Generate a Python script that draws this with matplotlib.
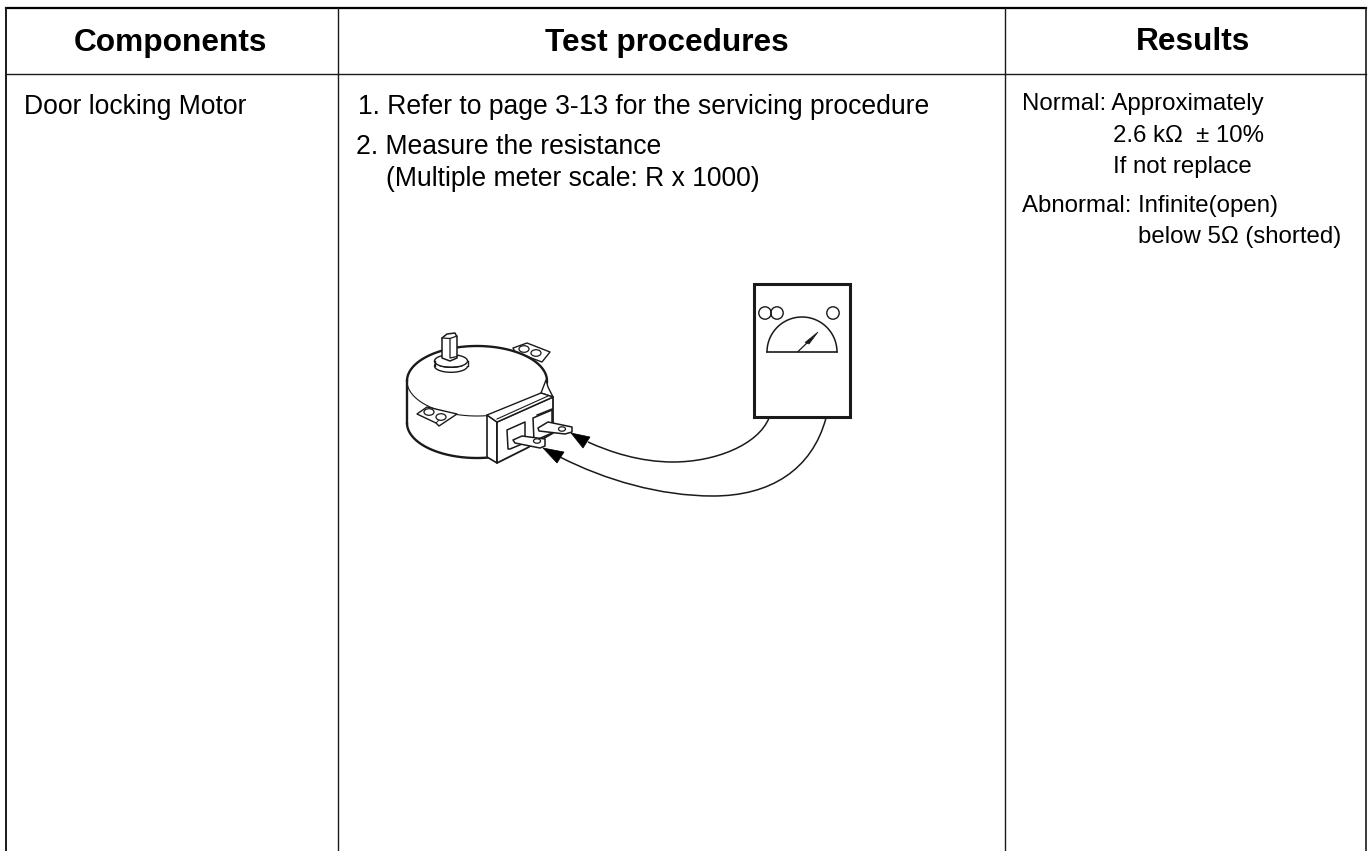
# Door locking motor test table with the meter sketch, laid out in reference pixels
import numpy as np
import matplotlib.pyplot as plt
from matplotlib.patches import Polygon, Circle, Ellipse, Rectangle, PathPatch
from matplotlib.path import Path

plt.rcParams['font.family'] = ['Liberation Sans', 'DejaVu Sans']

W, H = 1369, 851
INK = '#1a1a1a'

headers = ['Components', 'Test procedures', 'Results']
header_x = [170, 666.5, 1192.5]
component = 'Door locking Motor'
procedures = [
    (358, 114, '1. Refer to page 3-13 for the servicing procedure'),
    (356, 154, '2. Measure the resistance'),
    (386, 186, '(Multiple meter scale: R x 1000)'),
]
results = [
    (1022, 110, 'Normal: Approximately'),
    (1113, 142, '2.6 k\u03a9  \u00b1 10%'),
    (1113, 173, 'If not replace'),
    (1022, 212, 'Abnormal: Infinite(open)'),
    (1138, 243, 'below 5\u03a9 (shorted)'),
]
col_lines = [6, 338, 1005, 1365.5]
row_top, row_head, row_bottom = 8, 73.5, 851

fig = plt.figure(figsize=(W / 100, H / 100), dpi=100, facecolor='white')
ax = fig.add_axes([0, 0, 1, 1])
ax.set_xlim(0, W)
ax.set_ylim(H, 0)
ax.axis('off')

# table grid
ax.plot([col_lines[0], col_lines[-1]], [row_top, row_top], color='black', lw=1.6, solid_capstyle='projecting')
ax.plot([col_lines[0], col_lines[-1]], [row_head, row_head], color=INK, lw=1.0)
ax.plot([col_lines[0]] * 2, [row_top, row_bottom], color=INK, lw=1.4)
ax.plot([col_lines[3]] * 2, [row_top, row_bottom], color=INK, lw=1.2)
for x in col_lines[1:3]:
    ax.plot([x, x], [row_top, row_bottom], color=INK, lw=1.0)

# text
for x, label in zip(header_x, headers):
    ax.text(x, 50.5, label, ha='center', va='baseline', fontsize=22.8, fontweight='bold', color='black')
ax.text(24, 114, component, ha='left', va='baseline', fontsize=19.1, color='black')
for x, y, label in procedures:
    ax.text(x, y, label, ha='left', va='baseline', fontsize=19.1, color='black')
for x, y, label in results:
    ax.text(x, y, label, ha='left', va='baseline', fontsize=17.3, color='black')


def poly(points, fc='white', lw=1.0, z=3, closed=True):
    ax.add_patch(Polygon(points, closed=closed, fc=fc, ec=INK, lw=lw, zorder=z, joinstyle='round'))


def arc(cx, cy, rx, ry, a0, a1, lw=1.4, z=3):
    t = np.radians(np.linspace(a0, a1, 80))
    ax.plot(cx + rx * np.cos(t), cy + ry * np.sin(t), color=INK, lw=lw, zorder=z, solid_capstyle='round')


def curve(points, lw=1.1, z=2):
    codes = [Path.MOVETO] + [Path.CURVE4] * (len(points) - 1)
    ax.add_patch(PathPatch(Path(points, codes), fc='none', ec=INK, lw=lw, zorder=z))


def hole(cx, cy, rx=5, ry=3.3, z=6):
    ax.add_patch(Ellipse((cx, cy), 2 * rx, 2 * ry, fc='white', ec=INK, lw=0.9, zorder=z))


# motor: back tab first so the body hides its lower edge
poly([(513, 348), (527, 343), (550, 352), (542, 362), (515, 352)], z=2)
hole(524, 349, z=3)
hole(536, 353, z=3)

t = np.radians(np.linspace(180, 360, 80))
b = np.radians(np.linspace(0, 180, 80))
body_x = np.concatenate([477 + 70 * np.cos(t), 477 + 70 * np.cos(b)])
body_y = np.concatenate([381 + 35 * np.sin(t), 423 + 35 * np.sin(b)])
ax.add_patch(Polygon(np.column_stack([body_x, body_y]), closed=True, fc='white', ec='none', zorder=3))
arc(477, 381, 70, 35, 180, 368, lw=1.7, z=4)
arc(477, 381, 70, 35, 78, 180, lw=0.8, z=4)
arc(477, 423, 70, 35, 78, 180, lw=1.7, z=4)
ax.plot([407, 407], [381, 423], color=INK, lw=1.7, zorder=4)

# collar and shaft
t2 = np.linspace(0, 2 * np.pi, 80)
ax.add_patch(Polygon(np.column_stack([451 + 16.5 * np.cos(t2), 366 + 6.3 * np.sin(t2)]), fc='white', ec=INK, lw=1.0, zorder=5))
ax.add_patch(Polygon(np.column_stack([451 + 16.5 * np.cos(t2), 361 + 6.3 * np.sin(t2)]), fc='white', ec=INK, lw=1.0, zorder=5))
ax.add_patch(Rectangle((435, 361), 33, 5, fc='white', ec='none', zorder=5))
ax.plot([434.5, 434.5], [361, 366], color=INK, lw=1.0, zorder=5)
ax.plot([467.5, 467.5], [361, 366], color=INK, lw=1.0, zorder=5)
arc(451, 361, 16.5, 6.3, 0, 180, lw=1.0, z=5)
poly([(442, 338), (447, 334), (455, 333), (457, 337), (457, 358), (450, 361), (442, 358)], lw=1.1, z=6)
ax.plot([442, 450, 457], [338, 338.5, 336], color=INK, lw=0.9, zorder=7)
ax.plot([450, 450, 457], [338.5, 358, 356.5], color=INK, lw=0.9, zorder=7)

# front tab
poly([(417, 414), (427, 407), (457, 414), (439, 426), (436, 423)], z=5)
ax.plot([436, 439], [423, 420], color=INK, lw=0.7, zorder=5)
hole(429, 412)
hole(441, 417)

# terminal block
poly([(546, 380), (541, 393), (553, 397), (548, 387)], lw=1.0, z=5)
poly([(487, 415), (497, 422), (497, 463), (487, 457)], lw=1.2, z=6)
poly([(497, 422), (553, 397), (553, 433), (527, 448), (497, 463)], lw=1.3, z=6)
poly([(487, 415), (541, 393), (553, 397), (497, 422)], lw=1.0, z=6)
ax.plot([497, 548], [419, 396], color=INK, lw=0.8, zorder=7)

# connector windows and blades
poly([(507, 430), (525, 422), (525, 437), (527, 442), (510, 449), (508, 449)], lw=1.1, z=7)
poly([(533, 418), (552, 410), (552, 433), (534, 441)], lw=1.1, z=7)
ax.plot([537, 552], [415, 409], color=INK, lw=1.0, zorder=7)
poly([(538, 428), (548, 422), (572, 427), (572, 432), (565, 434), (539, 431)], lw=1.1, z=8)
hole(562, 429, 3.5, 2.2, z=9)
poly([(513, 440), (522, 436), (545, 439), (545, 446), (540, 448), (515, 443)], lw=1.1, z=8)
hole(537, 441, 3.5, 2.2, z=9)

# meter
ax.add_patch(Rectangle((754, 284), 96, 133, fc='white', ec=INK, lw=2.2, zorder=3))
for cx, cy in [(765, 313), (777, 313), (833, 313)]:
    ax.add_patch(Circle((cx, cy), 6.2, fc='none', ec=INK, lw=1.0, zorder=4))
arc(802, 352, 35, 35, 180, 360, lw=1.1, z=4)
ax.plot([767, 837], [352, 352], color=INK, lw=1.2, zorder=4)
ax.plot([798, 807], [351.5, 343], color=INK, lw=0.9, zorder=4)
ax.add_patch(Polygon([(805, 342.5), (818, 332), (809, 344)], fc=INK, ec=INK, lw=0.5, zorder=4))

# test leads
curve([(769, 418), (758, 445), (715, 462), (673, 462), (640, 462), (610, 452), (588, 442)])
curve([(826, 418), (812, 470), (770, 496), (713, 496), (660, 496), (605, 480), (560, 457)])

# arrowheads
ax.add_patch(Polygon([(571, 433), (583, 448), (590, 437)], fc='black', ec='black', lw=0.5, zorder=9))
ax.add_patch(Polygon([(543, 448), (557, 463), (564, 452)], fc='black', ec='black', lw=0.5, zorder=9))

fig.savefig('out.png', dpi=100)
